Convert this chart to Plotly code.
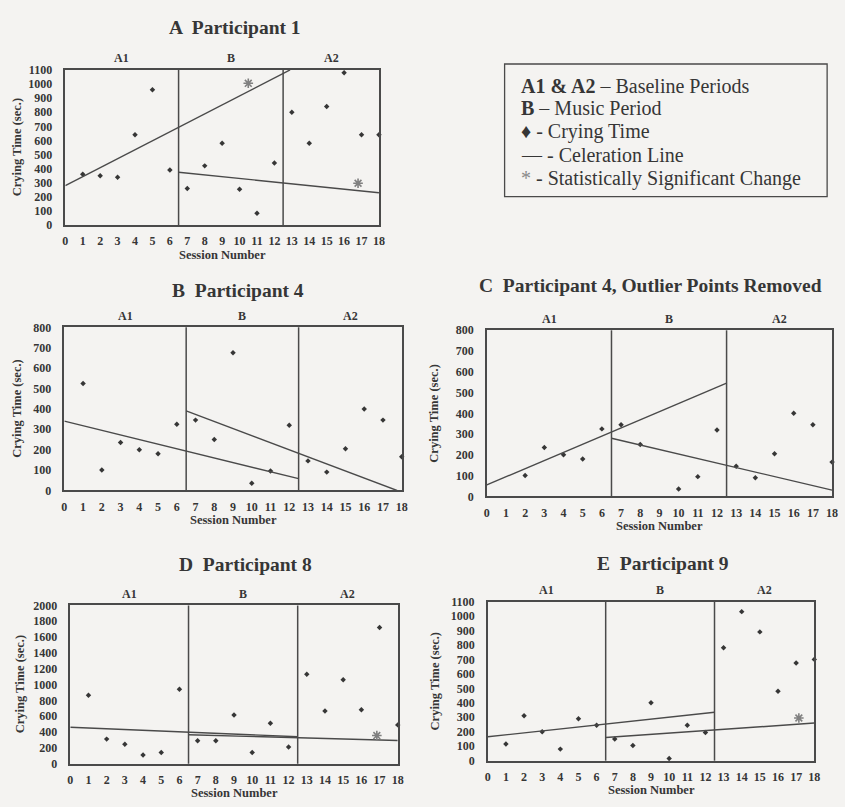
import plotly.graph_objects as go

# ---- data -------------------------------------------------------------
sessions = list(range(1, 19))
x_ticks = list(range(0, 19))
phase_names = ["A1", "B", "A2"]
phase_centers = [3.25, 9.5, 15.25]
phase_breaks = [6.5, 12.5]

# crying time (sec.) per session
participant1 = [360, 350, 340, 640, 960, 390, 260, 420, 580, 255, 85, 440,
                800, 580, 840, 1080, 640, 640]
participant4 = [525, 100, 235, 200, 180, 325, 345, 250, 675, 35, 95, 320,
                145, 90, 205, 400, 345, 165]
participant4_trimmed = [None, 100, 235, 200, 180, 325, 345, 250, None, 35, 95, 320,
                        145, 90, 205, 400, 345, 165]
participant8 = [865, 310, 245, 110, 140, 940, 290, 290, 615, 140, 510, 210,
                1130, 665, 1060, 680, 1720, 490]
participant9 = [115, 310, 200, 80, 290, 245, 150, 105, 400, 15, 245, 195,
                780, 1030, 890, 480, 675, 700]

# celeration lines: (session endpoints, crying-time endpoints)
p1_baseline_trend = ([0, 12.9], [280, 1100])
p1_music_trend = ([6.5, 18], [375, 230])
p4_baseline_trend = ([0, 12.5], [340, 58])
p4_music_trend = ([6.5, 17.75], [390, 0])
p4t_baseline_trend = ([0, 12.5], [55, 545])
p4t_music_trend = ([6.5, 18], [280, 30])
p8_baseline_trend = ([0, 12.5], [460, 340])
p8_music_trend = ([6.5, 18], [365, 292])
p9_baseline_trend = ([0, 12.5], [165, 335])
p9_music_trend = ([6.5, 18], [160, 260])

# statistically significant change markers
p1_signif = ([10.5, 16.8], [1005, 297])
p8_signif = ([16.85], [355])
p9_signif = ([17.15], [295])

# ---- styling ----------------------------------------------------------
W, H = 845, 807
BG = "#f4f3f1"
INK = "#363636"
FRAME = "#4a4a4a"
STAR = "#808080"
SERIF = "Liberation Serif, Times New Roman, serif"

panels = [
    dict(title="A  Participant 1", values=participant1,
         trends=[p1_baseline_trend, p1_music_trend], signif=p1_signif,
         ymax=1100, dtick=100, box=(63, 64, 380, 222),
         title_pos=(234, 21), ytitle_x=14),
    dict(title="B  Participant 4", values=participant4,
         trends=[p4_baseline_trend, p4_music_trend], signif=None,
         ymax=800, dtick=100, box=(62, 326, 403, 492),
         title_pos=(238, 289), ytitle_x=14),
    dict(title="C  Participant 4, Outlier Points Removed", values=participant4_trimmed,
         trends=[p4t_baseline_trend, p4t_music_trend], signif=None,
         ymax=800, dtick=100, box=(489, 329, 838, 498),
         title_pos=(654, 283), ytitle_x=436),
    dict(title="D  Participant 8", values=participant8,
         trends=[p8_baseline_trend, p8_music_trend], signif=p8_signif,
         ymax=2000, dtick=200, box=(68, 609, 399, 770),
         title_pos=(245, 567), ytitle_x=17),
    dict(title="E  Participant 9", values=participant9,
         trends=[p9_baseline_trend, p9_music_trend], signif=p9_signif,
         ymax=1100, dtick=100, box=(490, 605, 820, 767),
         title_pos=(667, 566), ytitle_x=437),
]

fig = go.Figure()
shapes, annotations = [], []
tick_font = dict(family=SERIF, size=12, color=INK, weight="bold")

for i, p in enumerate(panels):
    n = "" if i == 0 else str(i + 1)
    xref, yref = "x" + n, "y" + n
    x0, y0, x1, y1 = p["box"]

    # crying-time points
    fig.add_trace(go.Scatter(
        x=sessions, y=p["values"], mode="markers", xaxis=xref, yaxis=yref,
        marker=dict(symbol="diamond", size=4.2, color=INK),
        cliponaxis=False, showlegend=False, hoverinfo="x+y"))

    # celeration lines
    for lx, ly in p["trends"]:
        fig.add_trace(go.Scatter(
            x=lx, y=ly, mode="lines", xaxis=xref, yaxis=yref,
            line=dict(color=FRAME, width=1.4), showlegend=False))

    # significance asterisks
    if p["signif"] is not None:
        sx, sy = p["signif"]
        fig.add_trace(go.Scatter(
            x=sx, y=sy, mode="markers", xaxis=xref, yaxis=yref,
            marker=dict(symbol="asterisk-open", size=8, color=STAR,
                        line=dict(color=STAR, width=1.6)),
            cliponaxis=False, showlegend=False))

    fig.layout["xaxis" + n] = dict(
        domain=[x0 / W, x1 / W], anchor=yref, range=[0, 18],
        tickmode="array", tickvals=x_ticks, ticktext=[str(t) for t in x_ticks],
        ticks="outside", ticklen=4, tickcolor="rgba(0,0,0,0)",
        showline=True, mirror=True, linecolor=FRAME, linewidth=1.5,
        showgrid=False, zeroline=False, tickfont=tick_font, fixedrange=True)
    fig.layout["yaxis" + n] = dict(
        domain=[1 - y1 / H, 1 - y0 / H], anchor=xref, range=[0, p["ymax"]],
        tickmode="linear", tick0=0, dtick=p["dtick"],
        ticks="outside", ticklen=9, tickcolor="rgba(0,0,0,0)",
        showline=True, mirror=True, linecolor=FRAME, linewidth=1.5,
        showgrid=False, zeroline=False, tickfont=tick_font, fixedrange=True)

    # phase boundaries
    for b in phase_breaks:
        shapes.append(dict(type="line", xref=xref, yref=yref + " domain",
                           x0=b, x1=b, y0=0, y1=1,
                           line=dict(color=FRAME, width=1.5)))

    # phase names above the plot
    for name, c in zip(phase_names, phase_centers):
        annotations.append(dict(
            text=name, xref=xref, yref="paper", x=c, y=1 - (y0 - 12) / H,
            xanchor="center", yanchor="middle", showarrow=False,
            font=dict(family=SERIF, size=12, color=INK, weight="bold")))

    # panel title
    tx, ty = p["title_pos"]
    annotations.append(dict(
        text=p["title"], xref="paper", yref="paper", x=tx / W, y=1 - ty / H,
        xanchor="center", yanchor="middle", showarrow=False,
        font=dict(family=SERIF, size=19.5, color=INK, weight="bold")))

    # axis titles
    annotations.append(dict(
        text="Session Number", xref="paper", yref="paper",
        x=(x0 + x1) / 2 / W, y=1 - (y1 + 30) / H,
        xanchor="center", yanchor="middle", showarrow=False,
        font=dict(family=SERIF, size=12.5, color=INK, weight="bold")))
    annotations.append(dict(
        text="Crying Time (sec.)", xref="paper", yref="paper",
        x=p["ytitle_x"] / W, y=1 - (y0 + y1) / 2 / H, textangle=-90,
        xanchor="center", yanchor="middle", showarrow=False,
        font=dict(family=SERIF, size=12.5, color=INK, weight="bold")))

# key box
shapes.append(dict(type="rect", xref="paper", yref="paper",
                   x0=507 / W, x1=833 / W, y0=1 - 193 / H, y1=1 - 58 / H,
                   line=dict(color=FRAME, width=1.3), fillcolor="rgba(0,0,0,0)"))
key_lines = [
    "<b>A1 &amp; A2</b> – Baseline Periods",
    "<b>B</b> – Music Period",
    "♦ - Crying Time",
    "— - Celeration Line",
    "<span style='color:#888'>*</span> - Statistically Significant Change",
]
key_rows = [80, 103, 127, 151, 175]
for txt, ry in zip(key_lines, key_rows):
    annotations.append(dict(
        text=txt, xref="paper", yref="paper", x=522 / W, y=1 - ry / H,
        xanchor="left", yanchor="middle", align="left", showarrow=False,
        font=dict(family=SERIF, size=20, color=INK)))

fig.update_layout(
    width=W, height=H, margin=dict(l=0, r=0, t=0, b=0),
    paper_bgcolor=BG, plot_bgcolor=BG,
    shapes=shapes, annotations=annotations, showlegend=False)

fig.write_html("out.html")
